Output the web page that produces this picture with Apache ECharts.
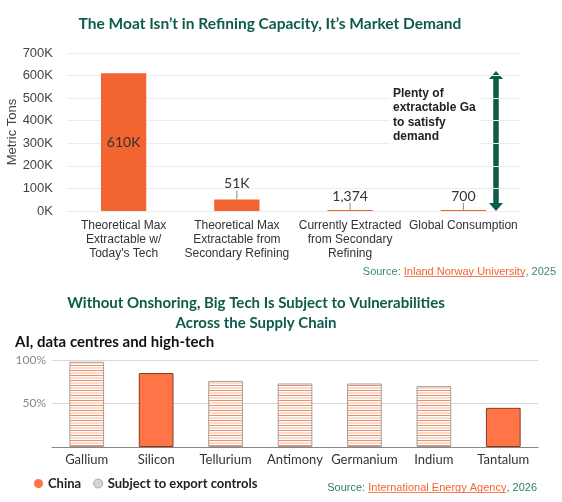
<!DOCTYPE html>
<html>
<head>
<meta charset="utf-8">
<script src="https://cdn.jsdelivr.net/npm/echarts@6/dist/echarts.min.js"></script>
<style>
  html, body { margin: 0; padding: 0; background: #fff; }
  #chart { width: 562px; height: 502px; }
</style>
</head>
<body>
<div id="chart"></div>
<script>
// --- data: gallium supply (top) ---
var stageNames = [
  'Theoretical Max\nExtractable w/\nToday\'s Tech',
  'Theoretical Max\nExtractable from\nSecondary Refining',
  'Currently Extracted\nfrom Secondary\nRefining',
  'Global Consumption'
];
var stageTons = [610000, 51000, 1374, 700];

// --- data: China share by mineral (bottom) ---
var minerals = ['Gallium', 'Silicon', 'Tellurium', 'Antimony', 'Germanium', 'Indium', 'Tantalum'];
var chinaShare = [98, 85, 76, 73, 73, 70, 45];
var exportControlled = [true, false, true, true, true, true, false];

var GREEN = '#0d5c4b';
var ORANGE = '#f26430';
var CORAL = '#ff7547';

// horizontal stripe fill for export-controlled bars
function stripes() {
  var c = document.createElement('canvas');
  c.width = 4; c.height = 5;
  var g = c.getContext('2d');
  var rows = ['#e9906f', '#ffffff', '#fdd9c8', '#fdd9c8', '#ffffff'];
  rows.forEach(function (col, i) {
    g.fillStyle = col;
    g.fillRect(0, i, 4, 1);
  });
  return c;
}

// thin line at the bottom of a text box -> underline for links
function underline(color) {
  var c = document.createElement('canvas');
  c.width = 8; c.height = 14;
  var g = c.getContext('2d');
  g.fillStyle = color;
  g.fillRect(0, 12, 8, 1);
  return c;
}

function tonLabel(v) {
  return v >= 10000 ? (v / 1000) + 'K' : v.toLocaleString('en-US');
}

var myChart = echarts.init(document.getElementById('chart'));

var option = {
  animation: false,
  title: [
    {
      text: 'The Moat Isn\u2019t in Refining Capacity, It\u2019s Market Demand',
      left: 270, top: 14, textAlign: 'center', padding: 0,
      textStyle: { fontFamily: 'Lato', fontWeight: 'bold', fontSize: 15.5, lineHeight: 20, color: GREEN }
    },
    {
      text: 'Without Onshoring, Big Tech Is Subject to Vulnerabilities\nAcross the Supply Chain',
      left: 256, top: 293, textAlign: 'center', padding: 0,
      textStyle: { fontFamily: 'Lato', fontWeight: 'bold', fontSize: 15, lineHeight: 20, color: GREEN }
    },
    {
      text: 'AI, data centres and high-tech',
      left: 15, top: 333, padding: 0,
      textStyle: { fontFamily: 'Lato', fontWeight: 'bold', fontSize: 15, lineHeight: 18, color: '#111' }
    }
  ],
  grid: [
    { left: 67, right: 42, top: 53, bottom: 291, outerBoundsMode: 'none' },
    { left: 52, right: 24, top: 360, bottom: 55, outerBoundsMode: 'none' }
  ],
  legend: {
    left: 29, top: 472,
    icon: 'circle', itemWidth: 9, itemHeight: 9, itemGap: 12,
    textStyle: { fontFamily: 'Lato', fontWeight: 'bold', fontSize: 13, color: '#222' },
    data: [
      { name: 'China', itemStyle: { color: CORAL, borderWidth: 0 } },
      { name: 'Subject to export controls', itemStyle: { color: '#d4d4d4', borderColor: '#aaa', borderWidth: 1 } }
    ]
  },
  xAxis: [
    {
      gridIndex: 0, type: 'category', data: stageNames,
      axisLine: { show: false }, axisTick: { show: false },
      axisLabel: { fontFamily: 'Liberation Sans', fontSize: 12, lineHeight: 14, color: '#333', margin: 8, interval: 0 }
    },
    {
      gridIndex: 1, type: 'category', data: minerals,
      axisLine: { lineStyle: { color: '#888' } }, axisTick: { show: false },
      axisLabel: { fontFamily: 'Lato', fontSize: 13, color: '#333', margin: 6, interval: 0 }
    }
  ],
  yAxis: [
    {
      gridIndex: 0, type: 'value', min: 0, max: 700000, interval: 100000,
      name: 'Metric Tons', nameLocation: 'middle', nameGap: 48, nameMoveOverlap: false,
      nameTextStyle: { fontFamily: 'Liberation Sans', fontSize: 13, color: '#444' },
      axisLabel: {
        fontFamily: 'Liberation Sans', fontSize: 13, color: '#444', margin: 14,
        formatter: function (v) { return (v / 1000) + 'K'; }
      },
      splitLine: { lineStyle: { color: '#ececec' } }
    },
    {
      gridIndex: 1, type: 'value', min: 0, max: 100, interval: 50,
      axisLabel: {
        fontFamily: 'Lato', fontSize: 12, color: '#888', margin: 6,
        formatter: function (v) { return v === 0 ? '' : v + '%'; }
      },
      splitLine: { lineStyle: { color: '#d9d9d9' } }
    }
  ],
  series: [
    {
      name: 'Gallium', type: 'bar', xAxisIndex: 0, yAxisIndex: 0,
      barWidth: '40%', barMinHeight: 1,
      itemStyle: { color: ORANGE },
      label: {
        show: true, position: 'top', distance: 5,
        fontFamily: 'Lato', fontSize: 14, color: '#333',
        formatter: function (p) { return tonLabel(p.value); }
      },
      labelLine: { show: true, lineStyle: { color: '#5c9e95', width: 1 } },
      labelLayout: function (p) {
        if (p.dataIndex === 1) return { dy: -4 };
        if (p.dataIndex === 2) return { dy: -2 };
      },
      data: stageTons.map(function (v, i) {
        if (i === 0) return { value: v, label: { position: 'inside' } };
        if (i === 3) return { value: v, label: { distance: 7 } };
        return v;
      })
    },
    {
      name: 'China', type: 'bar', xAxisIndex: 1, yAxisIndex: 1,
      barWidth: '50%', barGap: '-100%',
      itemStyle: { color: CORAL, borderColor: '#8b3a1e', borderWidth: 1 },
      data: chinaShare.map(function (v, i) { return exportControlled[i] ? '-' : v; })
    },
    {
      name: 'Subject to export controls', type: 'bar', xAxisIndex: 1, yAxisIndex: 1,
      barWidth: '50%', barGap: '-100%',
      itemStyle: { color: { image: stripes(), repeat: 'repeat' }, borderColor: '#a0a0a0', borderWidth: 1 },
      data: chinaShare.map(function (v, i) { return exportControlled[i] ? v : '-'; })
    }
  ],
  graphic: [
    {
      type: 'text', x: 390, y: 84, z: 100,
      style: {
        text: 'Plenty of\nextractable Ga\nto satisfy\ndemand',
        fontFamily: 'Liberation Sans', fontWeight: 'bold', fontSize: 12, lineHeight: 14.5, fill: '#222',
        backgroundColor: '#ffffff', padding: [2, 3]
      }
    },
    {
      type: 'group', z: 100,
      children: [
        { type: 'line', shape: { x1: 496, y1: 78, x2: 496, y2: 204 }, style: { stroke: GREEN, lineWidth: 5.5 } },
        { type: 'polygon', shape: { points: [[496, 71], [489, 79], [503, 79]] }, style: { fill: GREEN } },
        { type: 'polygon', shape: { points: [[496, 211], [489, 203], [503, 203]] }, style: { fill: GREEN } }
      ]
    },
    {
      type: 'text', x: 556, y: 272,
      style: {
        text: '{a|Source: }{b|Inland Norway University}{a|, 2025}',
        align: 'right', verticalAlign: 'middle',
        rich: {
          a: { fontFamily: 'Liberation Sans', fontSize: 11, lineHeight: 14, fill: '#3a8a7a' },
          b: { fontFamily: 'Liberation Sans', fontSize: 11, lineHeight: 14, fill: ORANGE, backgroundColor: { image: underline(ORANGE) } }
        }
      }
    },
    {
      type: 'text', x: 537, y: 488,
      style: {
        text: '{a|Source: }{b|International Energy Agency}{a|, 2026}',
        align: 'right', verticalAlign: 'middle',
        rich: {
          a: { fontFamily: 'Liberation Sans', fontSize: 11, lineHeight: 14, fill: '#2f7d6c' },
          b: { fontFamily: 'Liberation Sans', fontSize: 11, lineHeight: 14, fill: ORANGE, backgroundColor: { image: underline(ORANGE) } }
        }
      }
    }
  ]
};

myChart.setOption(option);
</script>
</body>
</html>
